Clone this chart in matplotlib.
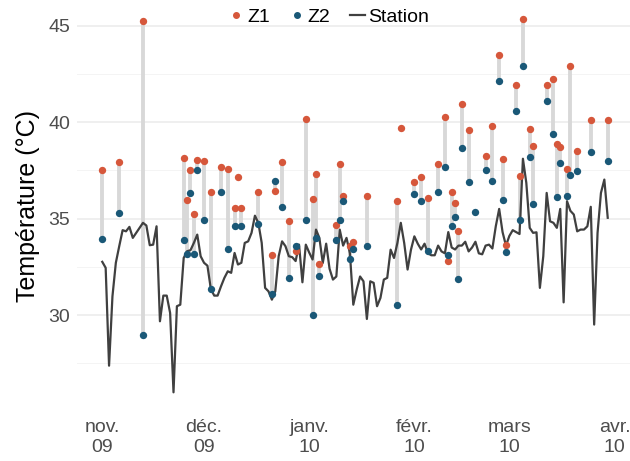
import numpy as np
import pandas as pd
import matplotlib.pyplot as plt
from matplotlib.lines import Line2D

plt.rcParams['font.family'] = ['Liberation Sans', 'DejaVu Sans']

# station temperature, daily from 2009-11-01
station = [32.76, 32.45, 27.38, 30.97, 32.71, 33.57, 34.40, 34.34, 34.57, 34.00,
           34.26, 34.52, 34.78, 34.64, 33.62, 33.65, 34.60, 29.68, 31.01, 31.01,
           30.11, 26.00, 30.46, 30.54, 32.96, 33.31, 33.36, 33.74, 34.17, 33.05,
           32.71, 32.56, 31.36, 31.01, 31.01, 31.49, 31.93, 32.27, 32.19, 33.22,
           32.62, 32.71, 33.74, 33.82, 34.26, 35.15, 34.78, 33.74, 31.41, 31.23,
           30.80, 31.23, 33.05, 33.82, 33.57, 33.05, 33.00, 32.80, 33.65, 31.70,
           33.65, 33.24, 32.88, 34.43, 34.00, 32.70, 33.70, 32.40, 31.84, 32.00,
           34.43, 33.60, 34.00, 33.20, 30.54, 31.32, 32.00, 31.75, 29.80, 31.75,
           31.67, 30.46, 30.89, 31.84, 31.93, 33.39, 32.96, 33.74, 34.78, 33.74,
           32.36, 33.39, 34.08, 33.70, 33.40, 33.70, 33.20, 33.10, 33.10, 33.60,
           33.30, 33.20, 34.30, 33.50, 33.40, 33.60, 33.60, 33.80, 33.30, 33.50,
           33.80, 33.20, 33.15, 33.60, 33.65, 33.45, 34.60, 35.50, 34.30, 33.60,
           34.10, 34.40, 34.30, 34.20, 38.10, 36.85, 34.52, 34.26, 34.29, 31.41,
           33.05, 36.33, 34.86, 34.78, 34.52, 35.50, 30.66, 35.90, 35.40, 35.21,
           34.34, 34.43, 34.43, 34.60, 35.61, 29.51, 34.26, 36.33, 37.02, 35.04]

# measurement days (offset from 2009-11-01) and the two sensors
obs_day = [0, 5, 12, 24, 25, 26, 27, 28, 30, 32, 35, 37, 39, 40, 41, 46, 50, 51,
           53, 55, 57, 60, 62, 63, 64, 69, 70, 71, 73, 74, 78, 87, 88, 92, 94, 96,
           99, 101, 102, 103, 104, 105, 106, 108, 110, 113, 115, 117, 118, 119,
           122, 123, 124, 126, 127, 131, 133, 134, 135, 137, 138, 140, 144, 149]
z1 = [37.54, 37.92, 45.26, 38.13, 35.95, 37.50, 35.26, 38.06, 37.99, 36.40,
      37.66, 37.57, 35.55, 37.16, 35.55, 36.38, 33.13, 36.43, 37.94, 34.86,
      33.31, 40.17, 36.02, 37.30, 32.67, 34.69, 37.83, 36.19, 33.57, 33.77,
      36.16, 35.93, 39.68, 36.92, 37.14, 36.09, 37.83, 40.25, 32.79, 36.38,
      35.79, 34.34, 40.94, 39.58, np.nan, 38.26, 39.82, 43.45, 38.07, 33.62,
      41.91, 37.19, 45.35, 39.65, 38.75, 41.91, 42.22, 38.85, 38.73, 37.57,
      42.88, 38.51, 40.13, 40.10]
z2 = [33.95, 35.29, 28.99, 33.91, 33.19, 36.33, 33.19, 37.54, 34.91, 31.36,
      36.38, 33.43, 34.60, np.nan, 34.60, 34.74, 31.10, 36.93, 35.61, 31.93,
      33.60, 34.95, 30.01, 33.98, 32.05, 33.91, 34.95, 35.93, 32.91, 33.43,
      33.57, 30.54, np.nan, 36.28, 35.90, 33.31, 36.38, 37.69, 33.13, 34.64,
      35.09, 31.89, 38.64, 36.90, 35.33, 37.50, 36.93, 42.13, 35.98, 33.29,
      40.56, 34.91, 42.88, 38.21, 35.76, 41.08, 39.37, 36.12, 37.87, 36.19,
      37.24, 37.47, 38.46, 37.99]

tick_dates = ['2009-11-01', '2009-12-01', '2010-01-01', '2010-02-01', '2010-03-01', '2010-04-01']
tick_labels = ['nov.\n09', 'déc.\n09', 'janv.\n10', 'févr.\n10', 'mars\n10', 'avr.\n10']

col_z1 = '#D6573B'
col_z2 = '#1A5877'
col_station = '#404040'

start = pd.Timestamp('2009-11-01')
station_dates = pd.date_range(start, periods=len(station), freq='D')
obs_dates = start + pd.to_timedelta(obs_day, unit='D')
z1 = np.array(z1)
z2 = np.array(z2)

fig = plt.figure(figsize=(6.3, 4.61), dpi=100)
ax = fig.add_axes([77 / 630, 50 / 461, 556 / 630, 410.9 / 461])

ax.vlines(obs_dates, np.minimum(z1, z2), np.maximum(z1, z2), color='#D8D8D8', lw=2.8, zorder=2)
ax.plot(station_dates, station, color=col_station, lw=1.6, zorder=3)
ax.scatter(obs_dates, z1, s=28, color=col_z1, zorder=4, linewidths=0)
ax.scatter(obs_dates, z2, s=28, color=col_z2, zorder=5, linewidths=0)

# ggplot-like 5% expansion
x_lo, x_hi = station_dates[0], station_dates[-1]
pad = (x_hi - x_lo) * 0.05
ax.set_xlim(x_lo - pad, x_hi + pad)
all_y = np.concatenate([station, z1[~np.isnan(z1)], z2[~np.isnan(z2)]])
y_lo, y_hi = all_y.min(), all_y.max()
ypad = (y_hi - y_lo) * 0.05
ax.set_ylim(y_lo - ypad, y_hi + ypad)

ax.set_xticks(pd.to_datetime(tick_dates))
ax.set_xticklabels(tick_labels, linespacing=1.2)
ax.set_yticks([30, 35, 40, 45])
ax.set_yticks([27.5, 32.5, 37.5, 42.5], minor=True)
ax.tick_params(axis='both', which='both', length=0, labelsize=14, colors='#4D4D4D')
ax.tick_params(axis='y', pad=5)
ax.tick_params(axis='x', pad=6)
ax.grid(True, axis='y', which='major', color='#EBEBEB', lw=1.1)
ax.grid(True, axis='y', which='minor', color='#F2F2F2', lw=0.6)
ax.set_axisbelow(True)
for s in ax.spines.values():
    s.set_visible(False)
ax.set_ylabel('Température (°C)', fontsize=18, labelpad=6)

handles = [Line2D([], [], marker='o', ls='', color=col_z1, markersize=4),
           Line2D([], [], marker='o', ls='', color=col_z2, markersize=4),
           Line2D([], [], color=col_station, lw=1.6)]
fig.legend(handles, ['Z1', 'Z2', 'Station'], loc='center', ncol=3,
           bbox_to_anchor=(329 / 630, 1 - 17 / 461), frameon=False, fontsize=14,
           handlelength=0.75, handletextpad=0.2, columnspacing=1.0,
           borderpad=0, borderaxespad=0)

fig.savefig('out.png', dpi=100)
